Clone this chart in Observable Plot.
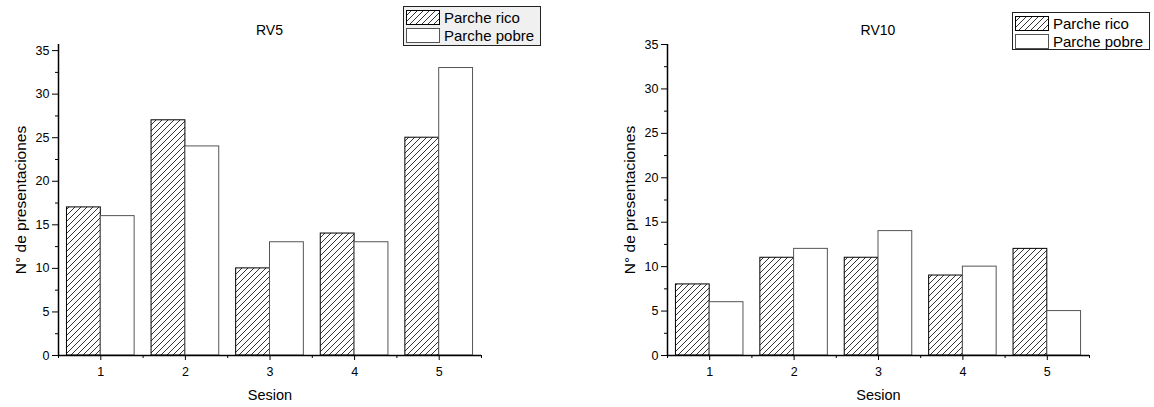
<!DOCTYPE html>
<html>
<head>
<meta charset="utf-8">
<script src="https://cdn.jsdelivr.net/npm/d3@7"></script>
<script src="https://cdn.jsdelivr.net/npm/@observablehq/plot@0.6"></script>
<style>
  body { margin: 0; background: #fff; font-family: "Liberation Sans", Arial, sans-serif; }
  #wrap { position: relative; width: 1154px; height: 407px; overflow: hidden; }
  .panel { position: absolute; top: 0; }
  .title { position: absolute; font-size: 14px; transform: translate(-50%, -50%); white-space: nowrap; }
  .legend { position: absolute; border: 1px solid #222; padding: 1px 3px 1px 2px; box-sizing: border-box; font-size: 15px; }
  .legend .row { display: flex; align-items: center; height: 18px; white-space: nowrap; }
  .legend svg { display: block; margin-right: 4px; }
</style>
</head>
<body>
<div id="wrap"></div>
<script>
// Session numbers and number of presentations per patch type
const sessions = [1, 2, 3, 4, 5];
const rv5Rico = [17, 27, 10, 14, 25];
const rv5Pobre = [16, 24, 13, 13, 33];
const rv10Rico = [8, 11, 11, 9, 12];
const rv10Pobre = [6, 12, 14, 10, 5];

// Axis ticks
const yMajor = [0, 5, 10, 15, 20, 25, 30, 35];
const yMinor = [2.5, 7.5, 12.5, 17.5, 22.5, 27.5, 32.5];
const xMinor = [0.5, 1.5, 2.5, 3.5, 4.5, 5.5];

// Labels
const panelTitles = ["RV5", "RV10"];
const seriesNames = ["Parche rico", "Parche pobre"];
const yLabel = "N° de presentaciones";
const xLabel = "Sesion";

const wrap = document.getElementById("wrap");

function hatchPattern(defs, id) {
  const p = defs.append("pattern")
    .attr("id", id)
    .attr("patternUnits", "userSpaceOnUse")
    .attr("width", 6).attr("height", 6);
  p.append("rect").attr("width", 6).attr("height", 6).attr("fill", "white");
  p.append("path")
    .attr("d", "M0,6L6,0M-1,1L1,-1M5,7L7,5")
    .attr("stroke", "black").attr("stroke-width", 0.8);
}

function panel({rico, pobre, yMax, hatchId, left, marginLeft, marginRight, title, legendPos}) {
  const rows = sessions.map((s, i) => ({s, rico: rico[i], pobre: pobre[i]}));
  const chart = Plot.plot({
    width: 577,
    height: 407,
    marginLeft,
    marginRight,
    marginTop: 44,
    marginBottom: 52,
    style: {fontFamily: "'Liberation Sans', Arial, sans-serif", fontSize: "12px", color: "#000"},
    x: {domain: [0.5, 5.5]},
    y: {domain: [0, yMax]},
    marks: [
      Plot.rect(rows, {x1: d => d.s - 0.4, x2: d => d.s, y1: 0, y2: "rico",
        fill: `url(#${hatchId})`, stroke: "#000", strokeWidth: 1}),
      Plot.rect(rows, {x1: d => d.s, x2: d => d.s + 0.4, y1: 0, y2: "pobre",
        fill: "white", stroke: "#555", strokeWidth: 1}),
      // tick marks and tick labels
      Plot.axisY({ticks: yMajor, tickSize: 6, tickPadding: 3, fontSize: 12.5, label: null}),
      Plot.axisY({ticks: yMinor, tickSize: 3, tickFormat: () => "", label: null}),
      Plot.axisX({ticks: sessions, tickSize: 5, tickPadding: 7, fontSize: 12.5, tickFormat: d3.format("d"), label: null}),
      Plot.axisX({ticks: xMinor, tickSize: 3, tickFormat: () => "", label: null}),
      // axis titles at a larger size
      Plot.axisY({ticks: [], tickSize: 0, fontSize: 15.5,
        label: yLabel, labelAnchor: "center", labelOffset: 44, labelArrow: "none"}),
      Plot.axisX({ticks: [], tickSize: 0, fontSize: 14.5,
        label: xLabel, labelAnchor: "center", labelOffset: 44, labelArrow: "none"}),
      Plot.ruleX([0.5], {strokeWidth: 1.5}),
      Plot.ruleY([0], {strokeWidth: 1.5})
    ]
  });
  hatchPattern(d3.select(chart).insert("defs", ":first-child"), hatchId);
  chart.classList.add("panel");
  chart.style.left = left + "px";
  wrap.appendChild(chart);

  // Panel title centred over the plot frame
  const t = document.createElement("div");
  t.className = "title";
  t.textContent = title;
  t.style.left = (left + marginLeft + (577 - marginLeft - marginRight) / 2) + "px";
  t.style.top = "30px";
  wrap.appendChild(t);

  // Legend box
  const lg = document.createElement("div");
  lg.className = "legend";
  lg.style.left = legendPos.x + "px";
  lg.style.top = legendPos.y + "px";
  lg.style.width = legendPos.w + "px";
  lg.style.height = legendPos.h + "px";
  lg.style.background = legendPos.bg;
  seriesNames.forEach((name, i) => {
    const row = document.createElement("div");
    row.className = "row";
    const sw = d3.create("svg").attr("width", 34).attr("height", 15);
    if (i === 0) hatchPattern(sw.append("defs"), hatchId + "L");
    sw.append("rect").attr("x", 0.5).attr("y", 0.5).attr("width", 33).attr("height", 14)
      .attr("fill", i === 0 ? `url(#${hatchId}L)` : "white")
      .attr("stroke", i === 0 ? "#000" : "#555");
    row.appendChild(sw.node());
    const span = document.createElement("span");
    span.textContent = name;
    row.appendChild(span);
    lg.appendChild(row);
  });
  wrap.appendChild(lg);
}

panel({rico: rv5Rico, pobre: rv5Pobre, yMax: 35.7, hatchId: "hatchRV5", left: 0,
  marginLeft: 58, marginRight: 96, title: panelTitles[0],
  legendPos: {x: 403, y: 6, w: 138, h: 40, bg: "#f0f0f0"}});
panel({rico: rv10Rico, pobre: rv10Pobre, yMax: 35, hatchId: "hatchRV10", left: 577,
  marginLeft: 90, marginRight: 65, title: panelTitles[1],
  legendPos: {x: 1012, y: 12, w: 138, h: 38, bg: "#fff"}});
</script>
</body>
</html>
